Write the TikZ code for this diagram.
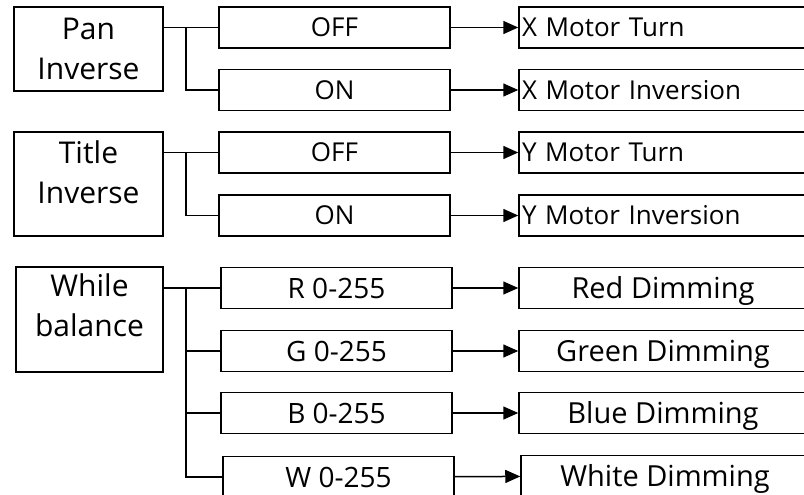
\documentclass[tikz,border=0pt]{standalone}
\usepackage{fontspec}
\setmainfont{Open Sans}
\usetikzlibrary{arrows.meta}

\tikzset{
  box/.style={draw, line width=1.5pt, inner sep=0pt},
  menubox/.style={box, minimum width=149pt, align=center, font=\fontsize{30}{40}\selectfont},
  valbox/.style={box, minimum width=231pt, minimum height=41pt, font=\fontsize{26}{30}\selectfont, text height=18.6pt, text depth=0pt},
  rgbbox/.style={valbox, font=\fontsize{28}{30}\selectfont, text height=20pt},
  motorbox/.style={box, minimum width=288pt, minimum height=41pt, text width=282pt, align=left, font=\fontsize{26}{30}\selectfont, text height=18.6pt, text depth=0pt},
  dimbox/.style={box, minimum width=288pt, minimum height=41pt, font=\fontsize{29}{30}\selectfont, text height=20.7pt, text depth=0pt},
  link/.style={line width=1.5pt},
  go/.style={link, -{Triangle[length=15pt,width=13pt]}}
}

\begin{document}
\begin{tikzpicture}[x=1pt,y=-1pt]
\path[use as bounding box, clip] (0,0) rectangle (804,495);

% left menus
\node[menubox, minimum height=84pt] (pan) at (88.5,49) {Pan\\Inverse};
\node[menubox, minimum height=104pt, text depth=23pt] (title) at (88.5,184) {Title\\Inverse};
\node[menubox, minimum width=147pt, minimum height=105pt, text depth=29pt] (wb) at (89.5,319.5) {While\\balance};

% settings
\node[valbox] (off1) at (334.5,27.5) {OFF};
\node[valbox] (on1) at (334.5,90) {ON};
\node[valbox] (off2) at (334.5,152.5) {OFF};
\node[valbox] (on2) at (334.5,215.5) {ON};
\node[rgbbox] (rv) at (336.5,288) {R 0-255};
\node[rgbbox] (gv) at (336.5,351) {G 0-255};
\node[rgbbox] (bv) at (336.5,413) {B 0-255};
\node[rgbbox] (wv) at (338.5,477) {W 0-255};

% results
\node[motorbox] (xturn) at (663,27.5) {X Motor Turn};
\node[motorbox] (xinv) at (663,90) {X Motor Inversion};
\node[motorbox] (yturn) at (663,152.5) {Y Motor Turn};
\node[motorbox] (yinv) at (663,215.5) {Y Motor Inversion};
\node[dimbox] (red) at (663,288) {Red Dimming};
\node[dimbox] (green) at (663,351) {Green Dimming};
\node[dimbox] (blue) at (663,413) {Blue Dimming};
\node[dimbox] (white) at (665,476) {White Dimming};

\coordinate (bus) at (186,0);

\draw[link] (pan.east |- off1.west) -- (off1.west);
\draw[link] (bus |- off1.west) |- (on1.west);
\draw[link] (title.east |- off2.west) -- (off2.west);
\draw[link] (bus |- off2.west) |- (on2.west);
\draw[link] (wb.east |- rv.west) -- (rv.west);
\draw[link] (bus |- rv.west) |- (wv.west);
\draw[link] (bus |- gv.west) -- (gv.west);
\draw[link] (bus |- bv.west) -- (bv.west);

\draw[go] (off1) -- (xturn);
\draw[go] (on1) -- (xinv);
\draw[go] (off2) -- (yturn);
\draw[go] (on2) -- (yinv);
\draw[go] (rv) -- (red);
\draw[go] (gv) -- (green);
\draw[go] (bv) -- (blue);
\draw[go] (wv) -- (white);
\end{tikzpicture}
\end{document}
